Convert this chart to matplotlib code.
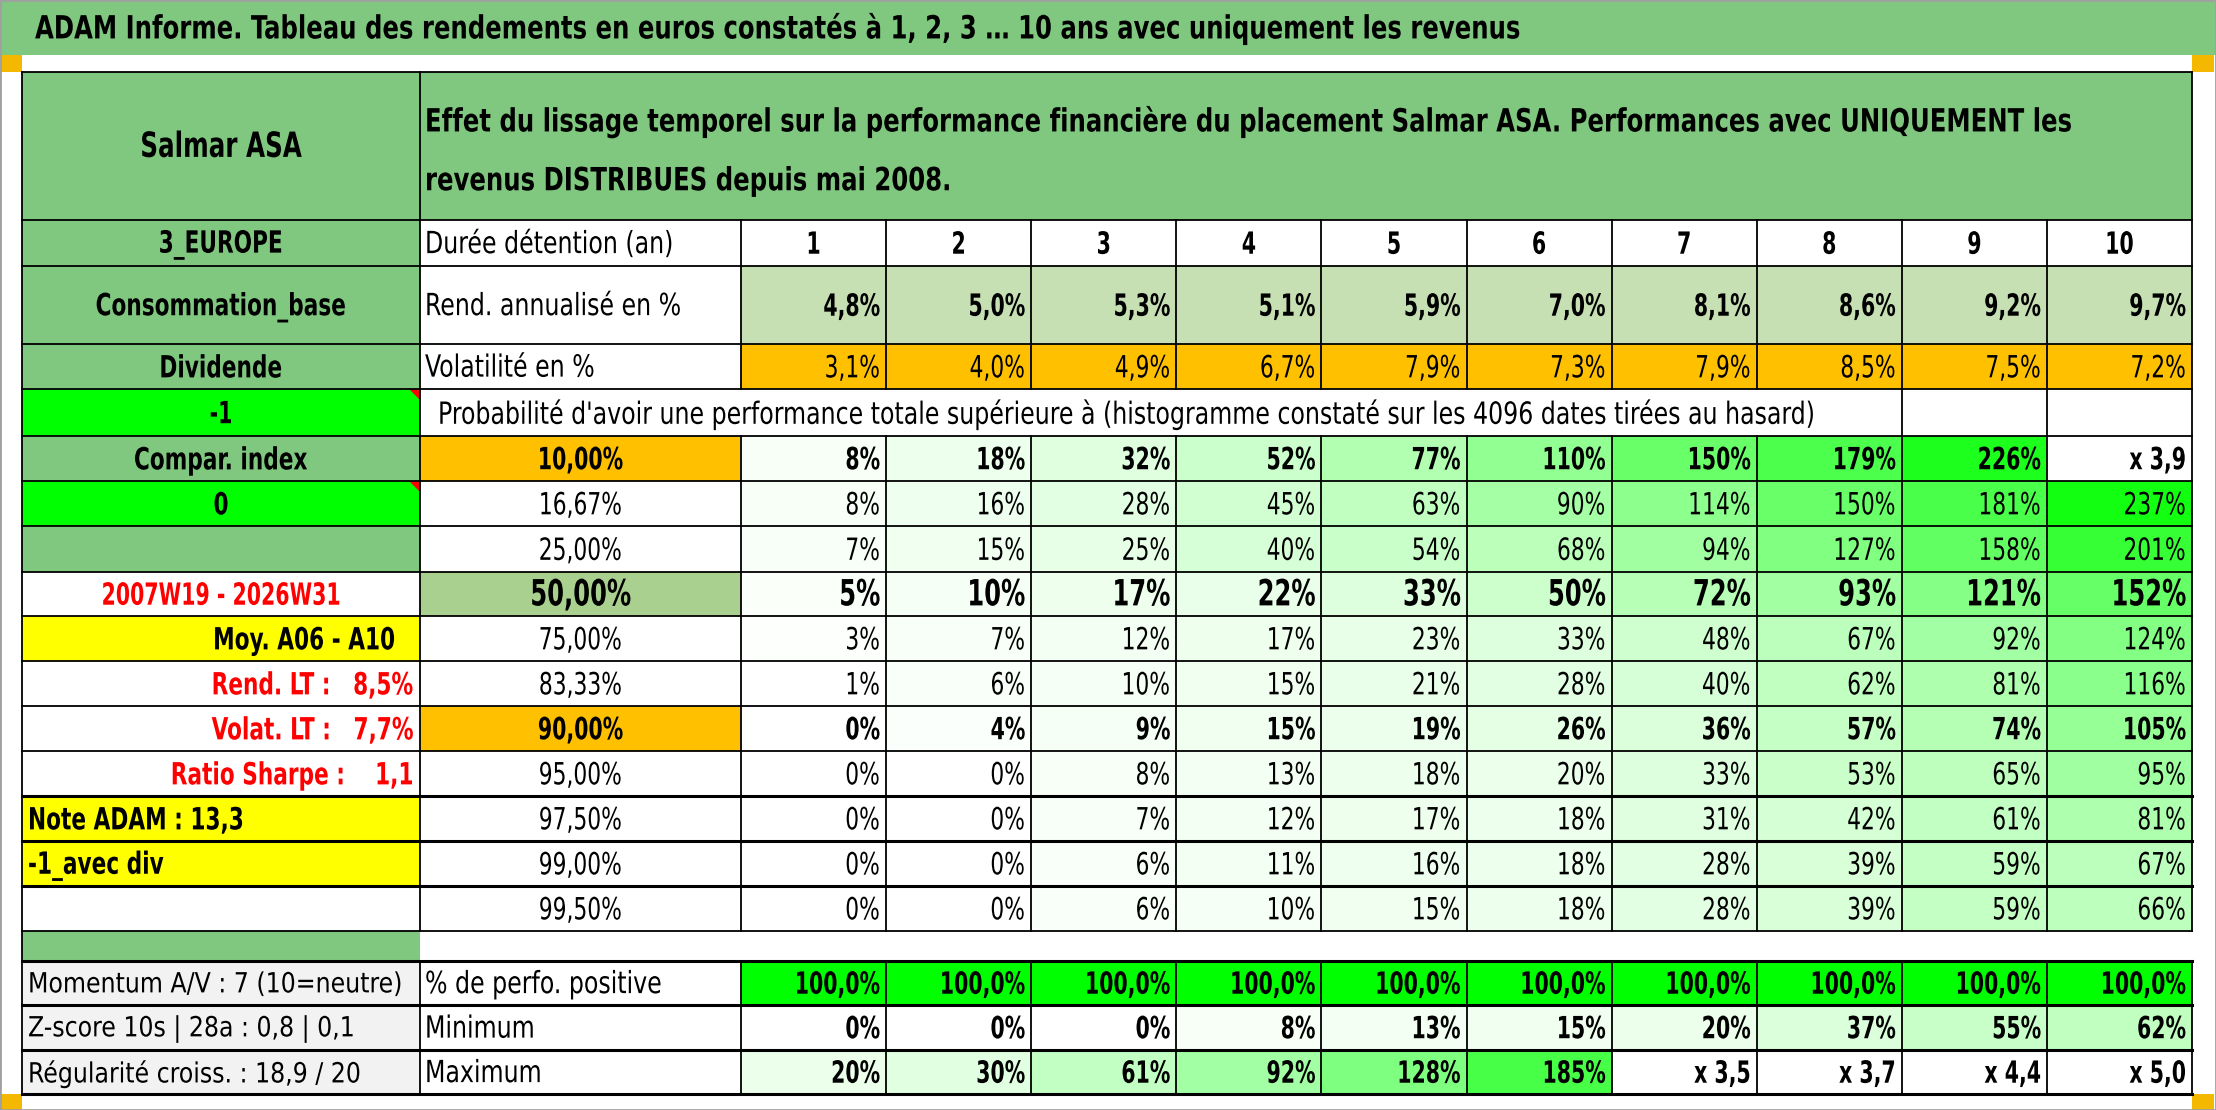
import os
import numpy as np
import matplotlib.pyplot as plt
import matplotlib.font_manager as fm
from matplotlib.font_manager import FontProperties
from matplotlib.patches import Rectangle, Polygon
from matplotlib.patheffects import AbstractPathEffect
from matplotlib.transforms import Affine2D
from matplotlib.text import Text

# Donnees du tableau

titre = "ADAM Informe. Tableau des rendements en euros constatés à 1, 2, 3 … 10 ans avec uniquement les revenus"
entete_1 = "Effet du lissage temporel sur la performance financière du placement Salmar ASA. Performances avec UNIQUEMENT les"
entete_2 = "revenus DISTRIBUES depuis mai 2008."
proba_txt = "Probabilité d'avoir une performance totale supérieure à (histogramme constaté sur les 4096 dates tirées au hasard)"

durees = [1, 2, 3, 4, 5, 6, 7, 8, 9, 10]
rend_annu = [4.8, 5.0, 5.3, 5.1, 5.9, 7.0, 8.1, 8.6, 9.2, 9.7]
volat = [3.1, 4.0, 4.9, 6.7, 7.9, 7.3, 7.9, 8.5, 7.5, 7.2]

quantiles = ['10,00%', '16,67%', '25,00%', '50,00%', '75,00%', '83,33%',
             '90,00%', '95,00%', '97,50%', '99,00%', '99,50%']

perf = [
    [8, 18, 32, 52, 77, 110, 150, 179, 226, 'x 3,9'],
    [8, 16, 28, 45, 63, 90, 114, 150, 181, 237],
    [7, 15, 25, 40, 54, 68, 94, 127, 158, 201],
    [5, 10, 17, 22, 33, 50, 72, 93, 121, 152],
    [3, 7, 12, 17, 23, 33, 48, 67, 92, 124],
    [1, 6, 10, 15, 21, 28, 40, 62, 81, 116],
    [0, 4, 9, 15, 19, 26, 36, 57, 74, 105],
    [0, 0, 8, 13, 18, 20, 33, 53, 65, 95],
    [0, 0, 7, 12, 17, 18, 31, 42, 61, 81],
    [0, 0, 6, 11, 16, 18, 28, 39, 59, 67],
    [0, 0, 6, 10, 15, 18, 28, 39, 59, 66],
]
perf_pos = [100.0, 100.0, 100.0, 100.0, 100.0, 100.0, 100.0, 100.0, 100.0, 100.0]
perf_min = [0, 0, 0, 8, 13, 15, 20, 37, 55, 62]
perf_max = [20, 30, 61, 92, 128, 185, 'x 3,5', 'x 3,7', 'x 4,4', 'x 5,0']

labels_gauche = ['Compar. index', '0', '', '2007W19 - 2026W31', 'Moy. A06 - A10',
                 'Rend. LT :   8,5%', 'Volat. LT :   7,7%', 'Ratio Sharpe :    1,1',
                 'Note ADAM : 13,3', '-1_avec div', '']
labels_bas = ['Momentum A/V : 7 (10=neutre)', 'Z-score 10s | 28a : 0,8 | 0,1',
              'Régularité croiss. : 18,9 / 20']
labels_bas_2 = ['% de perfo. positive', 'Minimum', 'Maximum']

# Couleurs

VERT = '#80C880'
VERT_VIF = '#00FF00'
ORANGE = '#FFC000'
JAUNE = '#FFFF00'
VERT_CLAIR = '#C6E0B4'
VERT_50 = '#A9D08E'
GRIS = '#F2F2F2'
ROUGE = '#FF0000'


# Police etroite (type Calibri) si disponible

def cherche(prefixe):
    reg = bold = None
    for f in fm.fontManager.ttflist:
        b = os.path.basename(f.fname).lower()
        if not b.startswith(prefixe):
            continue
        rest = b[len(prefixe):]
        if any(m in rest for m in ['italic', 'oblique', 'semi', 'extra', 'light',
                                   'thin', 'black', 'medium']):
            continue
        if 'bold' in rest:
            bold = f.fname
        else:
            reg = f.fname
    return reg, bold


police = None
for p in ['liberationsansnarrow-', 'notosans-condensed', 'dejavusanscondensed',
          'robotocondensed-', 'opensans_condensed-', 'opensans-condensed']:
    r, b = cherche(p)
    if r and b:
        police = (r, b)
        break


def fp(weight, size):
    if police is not None:
        return FontProperties(fname=police[1] if weight == 'bold' else police[0], size=size)
    return FontProperties(family=['Liberation Sans', 'DejaVu Sans'], weight=weight, size=size)


# Calibri est plus etroit : on ecrit plus petit puis on etire en hauteur
class Etire(AbstractPathEffect):
    def __init__(self, sy, ya):
        super().__init__()
        self.sy = sy
        self.ya = ya

    def draw_path(self, renderer, gc, tpath, affine, rgbFace=None):
        a = affine + Affine2D().translate(0, -self.ya).scale(1, self.sy).translate(0, self.ya)
        renderer.draw_path(gc, tpath, a, rgbFace)


def fmt_pct(v, dec=0):
    return (f"{v:.{dec}f}%").replace('.', ',')


def couleur_echelle(v, vmax=255.0):
    t = min(max(v / vmax, 0.0), 1.0)
    return (1 - t, 1.0, 1 - t)


# Geometrie (pixels)

W, H = 2216, 1110
ys = [72, 220, 266, 344, 389, 436, 481, 526, 572, 616, 661, 706, 751, 796,
      841, 886, 931, 961, 1005, 1050, 1094]
x0, x1, x2, xr = 22, 420, 741, 2192
cw = (xr - x2) / 10
xs = [x2 + k * cw for k in range(11)]

fig = plt.figure(figsize=(W / 100, H / 100), dpi=100)
ax = fig.add_axes([0, 0, 1, 1])
ax.set_xlim(0, W)
ax.set_ylim(H, 0)
ax.set_xticks([])
ax.set_yticks([])
for s in ax.spines.values():
    s.set_color('#A0A0A0')
    s.set_linewidth(2)

# facteurs horizontaux : largeurs mesurees sur la reference
T_TITRE = 23
rend = fig.canvas.get_renderer()
t_test = ax.text(0, 0, titre, fontproperties=fp('bold', T_TITRE))
SX_B = min(1.0, 1487 / t_test.get_window_extent(rend).width)
t_test.remove()
t_test = ax.text(0, 0, proba_txt, fontproperties=fp('normal', 22))
SX_R = min(1.0, 1378 / t_test.get_window_extent(rend).width)
t_test.remove()

F_LAB = 0.93   # etiquettes colonne de gauche
F_NB_B = 0.88  # nombres en gras
F_NB_R = 0.92  # nombres normaux


def case(xa, xb, ya, yb, fc):
    ax.add_patch(Rectangle((xa, ya), xb - xa, yb - ya, facecolor=fc, edgecolor='none', zorder=1))


def txt(x, y, s, ha='center', size=22, weight='bold', color='black', f=1.0):
    sx = min(1.0, (SX_B if weight == 'bold' else SX_R) * f)
    ya = ax.transData.transform((x, y + 2))[1]
    return ax.text(x, y + 2, s, ha=ha, va='center', fontproperties=fp(weight, size * sx),
                   color=color, zorder=5, path_effects=[Etire(1 / sx, ya)])


def nb(x, y, s, size=22, weight='bold'):
    return txt(x, y, s, ha='right', size=size, weight=weight,
               f=F_NB_B if weight == 'bold' else F_NB_R)


def cy(i):
    return (ys[i] + ys[i + 1]) / 2


# Titre et marges
case(0, W, 0, 55, VERT)
txt(35, 27, titre, ha='left', size=T_TITRE)
for (xa, ya) in [(0, 55), (xr, 55), (0, 1094), (xr, 1094)]:
    case(xa, xa + 22, ya, ya + 17, '#F5B800')

# Entete
case(x0, x1, ys[0], ys[1], VERT)
case(x1, xr, ys[0], ys[1], VERT)
txt((x0 + x1) / 2, cy(0), 'Salmar ASA', size=25, f=F_LAB)
txt(x1 + 5, 120, entete_1, ha='left', size=T_TITRE)
txt(x1 + 5, 180, entete_2, ha='left', size=T_TITRE)

# Lignes 3_EUROPE / Consommation / Dividende
for i, lab in zip([1, 2, 3], ['3_EUROPE', 'Consommation_base', 'Dividende']):
    case(x0, x1, ys[i], ys[i + 1], VERT)
    txt((x0 + x1) / 2, cy(i), lab, f=F_LAB)
txt(x1 + 5, cy(1), 'Durée détention (an)', ha='left', weight='normal')
txt(x1 + 5, cy(2), 'Rend. annualisé en %', ha='left', weight='normal')
txt(x1 + 5, cy(3), 'Volatilité en %', ha='left', weight='normal')
for k in range(10):
    txt((xs[k] + xs[k + 1]) / 2, cy(1), str(durees[k]), f=F_NB_B)
    case(xs[k], xs[k + 1], ys[2], ys[3], VERT_CLAIR)
    nb(xs[k + 1] - 6, cy(2), fmt_pct(rend_annu[k], 1))
    case(xs[k], xs[k + 1], ys[3], ys[4], ORANGE)
    nb(xs[k + 1] - 6, cy(3), fmt_pct(volat[k], 1), weight='normal')

# Ligne -1 / probabilite
case(x0, x1, ys[4], ys[5], VERT_VIF)
txt((x0 + x1) / 2, cy(4), '-1', f=F_NB_B)
txt(x1 + 18, cy(4), proba_txt, ha='left', weight='normal')

# Bloc des quantiles
fonds_g = [VERT, VERT_VIF, VERT, 'white', JAUNE, 'white', 'white', 'white', JAUNE, JAUNE, 'white']
fonds_q = [ORANGE, 'white', 'white', VERT_50, 'white', 'white', ORANGE, 'white', 'white', 'white', 'white']
gras = [True, False, False, True, False, False, True, False, False, False, False]
for j in range(11):
    i = 5 + j
    case(x0, x1, ys[i], ys[i + 1], fonds_g[j])
    case(x1, x2, ys[i], ys[i + 1], fonds_q[j])
    lab = labels_gauche[j]
    if j == 3:
        txt((x0 + x1) / 2, cy(i), lab, color=ROUGE, f=F_NB_B)
    elif j == 4:
        txt(x1 - 25, cy(i), lab, ha='right', f=F_LAB)
    elif j in (5, 6, 7):
        txt(x1 - 6, cy(i), lab, ha='right', color=ROUGE, f=F_LAB)
    elif j in (8, 9):
        txt(x0 + 6, cy(i), lab, ha='left', f=F_LAB)
    else:
        txt((x0 + x1) / 2, cy(i), lab, f=F_LAB)
    w = 'bold' if gras[j] else 'normal'
    size = 26 if j == 3 else 22
    txt((x1 + x2) / 2, cy(i), quantiles[j], size=size, weight=w,
        f=F_NB_B if gras[j] else F_NB_R)
    for k in range(10):
        v = perf[j][k]
        if isinstance(v, str):
            case(xs[k], xs[k + 1], ys[i], ys[i + 1], 'white')
            s = v
        else:
            case(xs[k], xs[k + 1], ys[i], ys[i + 1], couleur_echelle(v))
            s = fmt_pct(v)
        nb(xs[k + 1] - 6, cy(i), s, size=size, weight=w)

# marqueurs de commentaire
for i in [4, 6]:
    ax.add_patch(Polygon([[x1 - 11, ys[i]], [x1, ys[i]], [x1, ys[i] + 11]],
                         closed=True, facecolor=ROUGE, edgecolor='none', zorder=3))

# Ligne vide verte
case(x0, x1, ys[16], ys[17], VERT)

# Bloc du bas
for j in range(3):
    i = 17 + j
    case(x0, x1, ys[i], ys[i + 1], GRIS)
    txt(x0 + 6, cy(i), labels_bas[j], ha='left', weight='normal', size=20, f=22 / 20)
    txt(x1 + 5, cy(i), labels_bas_2[j], ha='left', weight='normal')
for k in range(10):
    case(xs[k], xs[k + 1], ys[17], ys[18], VERT_VIF)
    nb(xs[k + 1] - 6, cy(17), fmt_pct(perf_pos[k], 1))
    case(xs[k], xs[k + 1], ys[18], ys[19], couleur_echelle(perf_min[k]))
    nb(xs[k + 1] - 6, cy(18), fmt_pct(perf_min[k]))
    v = perf_max[k]
    if isinstance(v, str):
        nb(xs[k + 1] - 6, cy(19), v)
    else:
        case(xs[k], xs[k + 1], ys[19], ys[20], couleur_echelle(v))
        nb(xs[k + 1] - 6, cy(19), fmt_pct(v))

# Bordures
epais = [796, 841, 886, 961, 1005, 1050, 1094]
for y in ys:
    ax.plot([x0, xr], [y, y], color='black', lw=2.2 if y in epais else 1.3, zorder=4)
ax.plot([x0, x0], [ys[0], ys[-1]], color='black', lw=1.3, zorder=4)
for (ya, yb) in [(ys[0], ys[16]), (ys[17], ys[20])]:
    ax.plot([x1, x1], [ya, yb], color='black', lw=1.3, zorder=4)
    ax.plot([xr, xr], [ya, yb], color='black', lw=1.3, zorder=4)
segments = [(ys[1], ys[4]), (ys[5], ys[16]), (ys[17], ys[20])]
for (ya, yb) in segments:
    for x in xs[:-1]:
        ax.plot([x, x], [ya, yb], color='black', lw=1.3, zorder=4)
for x in xs[8:10]:
    ax.plot([x, x], [ys[4], ys[5]], color='black', lw=1.3, zorder=4)

fig.savefig('out.png', dpi=100)
